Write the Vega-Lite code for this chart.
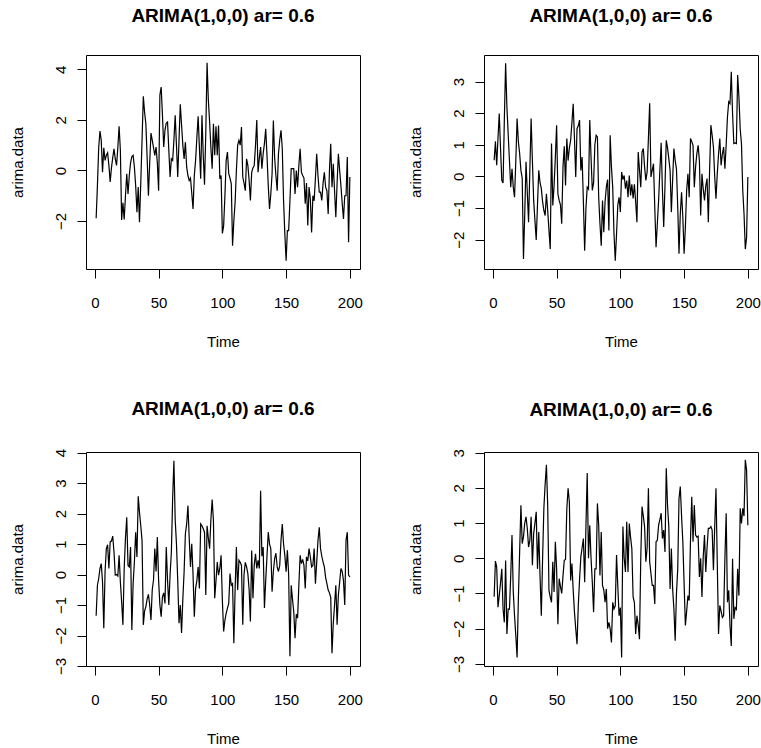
{
"$schema": "https://vega.github.io/schema/vega-lite/v6.json",
"background": "white",
"padding": {"left": 9, "top": 6, "right": 0, "bottom": 0},
"bounds": "flush",
"spacing": {"row": 183, "column": 124},
"columns": 2,
"config": {
  "font": "Liberation Sans",
  "view": {"stroke": "black", "strokeWidth": 1},
  "axis": {"domain": false, "grid": false, "tickColor": "black", "tickSize": 9, "labelFont": "Liberation Sans", "labelFontSize": 15, "labelColor": "black", "titleFont": "Liberation Sans", "titleFontSize": 15, "titleFontWeight": "normal", "titleColor": "black", "labelFlush": false, "labelOverlap": false},
  "axisX": {"labelPadding": 17, "titlePadding": 24, "labelAngle": 0},
  "axisY": {"labelAngle": -90, "labelAlign": "center", "labelBaseline": "alphabetic", "labelPadding": 12, "titlePadding": 28},
  "title": {"fontSize": 19, "fontWeight": "bold", "color": "black", "offset": 29, "anchor": "middle", "frame": "group", "font": "Liberation Sans"}
},
"datasets": {
"p1": [{"t":1,"y":-1.89},{"t":2,"y":-0.6},{"t":3,"y":0.9},{"t":4,"y":1.56},{"t":5,"y":1.2},{"t":6,"y":-0.07},{"t":7,"y":0.9},{"t":8,"y":0.4},{"t":9,"y":0.6},{"t":10,"y":0.7},{"t":11,"y":0.2},{"t":12,"y":-0.45},{"t":13,"y":0.1},{"t":14,"y":0.5},{"t":15,"y":0.86},{"t":16,"y":0.46},{"t":17,"y":0.2},{"t":18,"y":0.9},{"t":19,"y":1.75},{"t":20,"y":0.8},{"t":21,"y":-1.96},{"t":22,"y":-1.28},{"t":23,"y":-1.94},{"t":24,"y":-1.0},{"t":25,"y":-0.13},{"t":26,"y":-0.93},{"t":27,"y":-0.2},{"t":28,"y":0.3},{"t":29,"y":0.55},{"t":30,"y":0.6},{"t":31,"y":0.13},{"t":32,"y":-0.6},{"t":33,"y":-1.65},{"t":34,"y":-0.66},{"t":35,"y":-2.05},{"t":36,"y":-0.5},{"t":37,"y":1.2},{"t":38,"y":2.94},{"t":39,"y":2.3},{"t":40,"y":1.85},{"t":41,"y":0.5},{"t":42,"y":-1.0},{"t":43,"y":0.3},{"t":44,"y":1.48},{"t":45,"y":1.2},{"t":46,"y":0.9},{"t":47,"y":0.6},{"t":48,"y":0.93},{"t":49,"y":0.3},{"t":50,"y":-0.8},{"t":51,"y":2.98},{"t":52,"y":3.3},{"t":53,"y":2.2},{"t":54,"y":0.93},{"t":55,"y":1.6},{"t":56,"y":1.88},{"t":57,"y":1.92},{"t":58,"y":0.8},{"t":59,"y":-0.26},{"t":60,"y":0.46},{"t":61,"y":0.4},{"t":62,"y":1.2},{"t":63,"y":2.18},{"t":64,"y":1.0},{"t":65,"y":-0.26},{"t":66,"y":1.2},{"t":67,"y":2.62},{"t":68,"y":1.8},{"t":69,"y":1.0},{"t":70,"y":0.46},{"t":71,"y":1.12},{"t":72,"y":0.13},{"t":73,"y":-0.2},{"t":74,"y":-0.4},{"t":75,"y":-0.3},{"t":76,"y":-0.9},{"t":77,"y":-1.52},{"t":78,"y":-0.2},{"t":79,"y":0.4},{"t":80,"y":1.3},{"t":81,"y":2.14},{"t":82,"y":0.9},{"t":83,"y":-0.33},{"t":84,"y":2.18},{"t":85,"y":0.6},{"t":86,"y":-0.56},{"t":87,"y":1.5},{"t":88,"y":4.26},{"t":89,"y":2.8},{"t":90,"y":1.92},{"t":91,"y":0.9},{"t":92,"y":0.07},{"t":93,"y":1.85},{"t":94,"y":0.6},{"t":95,"y":1.75},{"t":96,"y":0.6},{"t":97,"y":1.78},{"t":98,"y":-0.33},{"t":99,"y":-0.2},{"t":100,"y":-2.49},{"t":101,"y":-2.2},{"t":102,"y":-1.0},{"t":103,"y":0.4},{"t":104,"y":0.73},{"t":105,"y":-0.13},{"t":106,"y":-0.3},{"t":107,"y":-0.53},{"t":108,"y":-2.98},{"t":109,"y":-2.0},{"t":110,"y":-1.26},{"t":111,"y":0.0},{"t":112,"y":1.0},{"t":113,"y":1.19},{"t":114,"y":1.0},{"t":115,"y":1.72},{"t":116,"y":-0.26},{"t":117,"y":-0.5},{"t":118,"y":-0.8},{"t":119,"y":0.46},{"t":120,"y":0.2},{"t":121,"y":-0.4},{"t":122,"y":-1.19},{"t":123,"y":-0.07},{"t":124,"y":0.1},{"t":125,"y":0.2},{"t":126,"y":1.0},{"t":127,"y":2.0},{"t":128,"y":-0.07},{"t":129,"y":0.5},{"t":130,"y":0.93},{"t":131,"y":0.07},{"t":132,"y":0.66},{"t":133,"y":1.06},{"t":134,"y":1.65},{"t":135,"y":0.6},{"t":136,"y":-0.6},{"t":137,"y":-1.52},{"t":138,"y":-0.93},{"t":139,"y":-0.13},{"t":140,"y":1.98},{"t":141,"y":0.5},{"t":142,"y":-0.2},{"t":143,"y":-0.8},{"t":144,"y":0.66},{"t":145,"y":1.2},{"t":146,"y":1.59},{"t":147,"y":0.86},{"t":148,"y":-1.19},{"t":149,"y":-2.5},{"t":150,"y":-3.57},{"t":151,"y":-2.38},{"t":152,"y":-2.38},{"t":153,"y":-1.2},{"t":154,"y":0.07},{"t":155,"y":0.07},{"t":156,"y":0.07},{"t":157,"y":-0.93},{"t":158,"y":0.0},{"t":159,"y":-0.66},{"t":160,"y":0.2},{"t":161,"y":0.86},{"t":162,"y":-0.07},{"t":163,"y":-0.2},{"t":164,"y":-0.3},{"t":165,"y":-1.32},{"t":166,"y":-0.5},{"t":167,"y":-2.18},{"t":168,"y":-0.66},{"t":169,"y":-1.12},{"t":170,"y":-2.45},{"t":171,"y":-1.0},{"t":172,"y":-1.2},{"t":173,"y":-0.3},{"t":174,"y":0.66},{"t":175,"y":-0.2},{"t":176,"y":-0.86},{"t":177,"y":-0.86},{"t":178,"y":-1.19},{"t":179,"y":-0.5},{"t":180,"y":-0.07},{"t":181,"y":-0.66},{"t":182,"y":-0.8},{"t":183,"y":-1.72},{"t":184,"y":0.0},{"t":185,"y":1.06},{"t":186,"y":-0.66},{"t":187,"y":0.26},{"t":188,"y":-0.8},{"t":189,"y":-1.85},{"t":190,"y":-0.5},{"t":191,"y":0.66},{"t":192,"y":0.0},{"t":193,"y":-0.6},{"t":194,"y":-1.3},{"t":195,"y":-1.92},{"t":196,"y":-1.0},{"t":197,"y":-1.0},{"t":198,"y":0.53},{"t":199,"y":-2.84},{"t":200,"y":-0.26}],
"p2": [{"t":1,"y":0.51},{"t":2,"y":1.11},{"t":3,"y":0.35},{"t":4,"y":1.2},{"t":5,"y":1.99},{"t":6,"y":0.9},{"t":7,"y":-0.13},{"t":8,"y":-0.21},{"t":9,"y":1.8},{"t":10,"y":3.58},{"t":11,"y":2.2},{"t":12,"y":1.35},{"t":13,"y":0.5},{"t":14,"y":-0.34},{"t":15,"y":0.24},{"t":16,"y":-0.34},{"t":17,"y":-0.66},{"t":18,"y":0.5},{"t":19,"y":1.83},{"t":20,"y":1.1},{"t":21,"y":0.72},{"t":22,"y":0.19},{"t":23,"y":-0.05},{"t":24,"y":-2.61},{"t":25,"y":-1.2},{"t":26,"y":0.46},{"t":27,"y":-0.5},{"t":28,"y":-1.45},{"t":29,"y":0.2},{"t":30,"y":1.83},{"t":31,"y":0.5},{"t":32,"y":-0.76},{"t":33,"y":-1.4},{"t":34,"y":-2.01},{"t":35,"y":-0.9},{"t":36,"y":0.19},{"t":37,"y":-0.2},{"t":38,"y":-0.39},{"t":39,"y":-0.8},{"t":40,"y":-1.08},{"t":41,"y":-1.24},{"t":42,"y":-0.55},{"t":43,"y":-1.08},{"t":44,"y":-1.7},{"t":45,"y":-2.3},{"t":46,"y":1.04},{"t":47,"y":-0.92},{"t":48,"y":-0.3},{"t":49,"y":0.6},{"t":50,"y":1.62},{"t":51,"y":-0.55},{"t":52,"y":-0.76},{"t":53,"y":-0.9},{"t":54,"y":-1.5},{"t":55,"y":0.3},{"t":56,"y":0.95},{"t":57,"y":-0.29},{"t":58,"y":1.2},{"t":59,"y":0.5},{"t":60,"y":0.9},{"t":61,"y":1.14},{"t":62,"y":1.7},{"t":63,"y":2.3},{"t":64,"y":1.2},{"t":65,"y":-0.02},{"t":66,"y":1.51},{"t":67,"y":1.6},{"t":68,"y":1.78},{"t":69,"y":0.19},{"t":70,"y":0.61},{"t":71,"y":-0.8},{"t":72,"y":-2.35},{"t":73,"y":-1.0},{"t":74,"y":-0.34},{"t":75,"y":-0.4},{"t":76,"y":1.78},{"t":77,"y":0.6},{"t":78,"y":-0.44},{"t":79,"y":-0.2},{"t":80,"y":1.0},{"t":81,"y":1.3},{"t":82,"y":1.25},{"t":83,"y":-0.66},{"t":84,"y":-1.5},{"t":85,"y":-2.19},{"t":86,"y":-0.76},{"t":87,"y":-1.77},{"t":88,"y":-0.8},{"t":89,"y":-0.34},{"t":90,"y":-0.1},{"t":91,"y":-1.71},{"t":92,"y":1.3},{"t":93,"y":0.3},{"t":94,"y":-0.34},{"t":95,"y":-1.8},{"t":96,"y":-2.67},{"t":97,"y":-1.82},{"t":98,"y":-0.9},{"t":99,"y":-0.66},{"t":100,"y":-1.13},{"t":101,"y":0.14},{"t":102,"y":-0.1},{"t":103,"y":0.03},{"t":104,"y":-0.39},{"t":105,"y":-0.13},{"t":106,"y":-0.66},{"t":107,"y":0.03},{"t":108,"y":-0.6},{"t":109,"y":-0.25},{"t":110,"y":-0.7},{"t":111,"y":-0.25},{"t":112,"y":-0.8},{"t":113,"y":-1.45},{"t":114,"y":0.77},{"t":115,"y":0.2},{"t":116,"y":-0.34},{"t":117,"y":0.77},{"t":118,"y":0.88},{"t":119,"y":0.3},{"t":120,"y":-0.13},{"t":121,"y":0.14},{"t":122,"y":1.2},{"t":123,"y":2.31},{"t":124,"y":-0.02},{"t":125,"y":0.2},{"t":126,"y":0.4},{"t":127,"y":-1.0},{"t":128,"y":-2.24},{"t":129,"y":-1.5},{"t":130,"y":-0.76},{"t":131,"y":0.2},{"t":132,"y":1.06},{"t":133,"y":-0.44},{"t":134,"y":-1.6},{"t":135,"y":-0.3},{"t":136,"y":1.14},{"t":137,"y":0.9},{"t":138,"y":0.56},{"t":139,"y":0.2},{"t":140,"y":-1.13},{"t":141,"y":-0.1},{"t":142,"y":0.88},{"t":143,"y":0.5},{"t":144,"y":0.24},{"t":145,"y":-0.97},{"t":146,"y":-2.45},{"t":147,"y":-1.2},{"t":148,"y":-0.5},{"t":149,"y":-1.29},{"t":150,"y":-2.45},{"t":151,"y":-1.6},{"t":152,"y":-0.44},{"t":153,"y":0.08},{"t":154,"y":-0.66},{"t":155,"y":1.2},{"t":156,"y":1.1},{"t":157,"y":0.98},{"t":158,"y":-0.34},{"t":159,"y":0.3},{"t":160,"y":0.72},{"t":161,"y":0.98},{"t":162,"y":0.5},{"t":163,"y":-1.24},{"t":164,"y":0.08},{"t":165,"y":-0.4},{"t":166,"y":-0.76},{"t":167,"y":-0.3},{"t":168,"y":-0.07},{"t":169,"y":-1.45},{"t":170,"y":0.2},{"t":171,"y":1.62},{"t":172,"y":1.3},{"t":173,"y":0.93},{"t":174,"y":0.0},{"t":175,"y":-0.71},{"t":176,"y":0.08},{"t":177,"y":0.7},{"t":178,"y":1.2},{"t":179,"y":0.35},{"t":180,"y":0.7},{"t":181,"y":0.93},{"t":182,"y":0.24},{"t":183,"y":1.0},{"t":184,"y":1.88},{"t":185,"y":2.36},{"t":186,"y":2.3},{"t":187,"y":3.31},{"t":188,"y":2.0},{"t":189,"y":1.04},{"t":190,"y":1.06},{"t":191,"y":1.04},{"t":192,"y":3.21},{"t":193,"y":2.52},{"t":194,"y":1.5},{"t":195,"y":1.04},{"t":196,"y":-0.44},{"t":197,"y":-1.18},{"t":198,"y":-2.3},{"t":199,"y":-1.93},{"t":200,"y":-0.02}],
"p3": [{"t":1,"y":-1.35},{"t":2,"y":-0.35},{"t":3,"y":-0.13},{"t":4,"y":0.2},{"t":5,"y":0.36},{"t":6,"y":-0.24},{"t":7,"y":-1.76},{"t":8,"y":0.1},{"t":9,"y":0.85},{"t":10,"y":0.98},{"t":11,"y":0.2},{"t":12,"y":1.07},{"t":13,"y":1.1},{"t":14,"y":1.26},{"t":15,"y":0.74},{"t":16,"y":-0.02},{"t":17,"y":0.0},{"t":18,"y":-0.05},{"t":19,"y":0.63},{"t":20,"y":-0.24},{"t":21,"y":-0.9},{"t":22,"y":-1.65},{"t":23,"y":0.2},{"t":24,"y":1.2},{"t":25,"y":1.88},{"t":26,"y":0.3},{"t":27,"y":0.25},{"t":28,"y":0.9},{"t":29,"y":-1.82},{"t":30,"y":-0.3},{"t":31,"y":0.41},{"t":32,"y":1.39},{"t":33,"y":0.58},{"t":34,"y":2.57},{"t":35,"y":2.04},{"t":36,"y":1.6},{"t":37,"y":1.12},{"t":38,"y":-1.65},{"t":39,"y":-1.2},{"t":40,"y":-1.05},{"t":41,"y":-0.8},{"t":42,"y":-0.65},{"t":43,"y":-1.0},{"t":44,"y":-1.49},{"t":45,"y":-0.5},{"t":46,"y":-0.18},{"t":47,"y":0.85},{"t":48,"y":0.1},{"t":49,"y":1.23},{"t":50,"y":-0.2},{"t":51,"y":-1.0},{"t":52,"y":-1.38},{"t":53,"y":-0.73},{"t":54,"y":-0.6},{"t":55,"y":-0.95},{"t":56,"y":0.9},{"t":57,"y":-0.2},{"t":58,"y":-1.0},{"t":59,"y":0.0},{"t":60,"y":0.74},{"t":61,"y":2.5},{"t":62,"y":3.73},{"t":63,"y":1.8},{"t":64,"y":1.01},{"t":65,"y":-0.2},{"t":66,"y":-1.6},{"t":67,"y":-1.0},{"t":68,"y":-1.92},{"t":69,"y":-0.8},{"t":70,"y":0.1},{"t":71,"y":1.34},{"t":72,"y":1.66},{"t":73,"y":2.26},{"t":74,"y":1.2},{"t":75,"y":0.25},{"t":76,"y":1.01},{"t":77,"y":0.0},{"t":78,"y":-1.38},{"t":79,"y":-0.46},{"t":80,"y":-0.2},{"t":81,"y":0.25},{"t":82,"y":-0.46},{"t":83,"y":1.66},{"t":84,"y":1.6},{"t":85,"y":1.5},{"t":86,"y":1.39},{"t":87,"y":-0.67},{"t":88,"y":1.6},{"t":89,"y":1.2},{"t":90,"y":0.85},{"t":91,"y":1.8},{"t":92,"y":2.46},{"t":93,"y":1.77},{"t":94,"y":-0.78},{"t":95,"y":-0.2},{"t":96,"y":0.41},{"t":97,"y":-0.02},{"t":98,"y":0.2},{"t":99,"y":0.63},{"t":100,"y":-0.84},{"t":101,"y":-1.87},{"t":102,"y":-1.5},{"t":103,"y":-1.27},{"t":104,"y":-1.1},{"t":105,"y":-0.95},{"t":106,"y":0.03},{"t":107,"y":-0.35},{"t":108,"y":-0.3},{"t":109,"y":-2.25},{"t":110,"y":-0.5},{"t":111,"y":0.9},{"t":112,"y":-0.51},{"t":113,"y":0.47},{"t":114,"y":0.4},{"t":115,"y":0.3},{"t":116,"y":-1.65},{"t":117,"y":0.0},{"t":118,"y":0.4},{"t":119,"y":0.25},{"t":120,"y":0.03},{"t":121,"y":-0.5},{"t":122,"y":-1.54},{"t":123,"y":0.79},{"t":124,"y":-0.78},{"t":125,"y":0.3},{"t":126,"y":0.68},{"t":127,"y":0.2},{"t":128,"y":0.47},{"t":129,"y":0.2},{"t":130,"y":2.75},{"t":131,"y":0.6},{"t":132,"y":0.9},{"t":133,"y":-1.1},{"t":134,"y":-0.2},{"t":135,"y":0.6},{"t":136,"y":1.39},{"t":137,"y":1.0},{"t":138,"y":0.85},{"t":139,"y":-0.56},{"t":140,"y":0.1},{"t":141,"y":0.52},{"t":142,"y":0.7},{"t":143,"y":0.25},{"t":144,"y":0.1},{"t":145,"y":0.3},{"t":146,"y":1.12},{"t":147,"y":1.66},{"t":148,"y":1.0},{"t":149,"y":0.63},{"t":150,"y":0.09},{"t":151,"y":0.8},{"t":152,"y":0.0},{"t":153,"y":-2.68},{"t":154,"y":-0.35},{"t":155,"y":-0.8},{"t":156,"y":-1.22},{"t":157,"y":-2.09},{"t":158,"y":-1.3},{"t":159,"y":-1.43},{"t":160,"y":-0.35},{"t":161,"y":0.63},{"t":162,"y":0.36},{"t":163,"y":0.5},{"t":164,"y":0.3},{"t":165,"y":-0.46},{"t":166,"y":0.58},{"t":167,"y":0.45},{"t":168,"y":0.85},{"t":169,"y":0.58},{"t":170,"y":0.25},{"t":171,"y":0.3},{"t":172,"y":0.85},{"t":173,"y":-0.3},{"t":174,"y":0.4},{"t":175,"y":1.12},{"t":176,"y":1.55},{"t":177,"y":0.85},{"t":178,"y":0.6},{"t":179,"y":0.41},{"t":180,"y":0.25},{"t":181,"y":-0.1},{"t":182,"y":-0.3},{"t":183,"y":-0.51},{"t":184,"y":-0.6},{"t":185,"y":-0.75},{"t":186,"y":-2.58},{"t":187,"y":-1.6},{"t":188,"y":-1.0},{"t":189,"y":-0.35},{"t":190,"y":-1.65},{"t":191,"y":-0.67},{"t":192,"y":-0.25},{"t":193,"y":0.2},{"t":194,"y":0.1},{"t":195,"y":-0.2},{"t":196,"y":-1.0},{"t":197,"y":1.12},{"t":198,"y":1.39},{"t":199,"y":-0.02},{"t":200,"y":-0.08}],
"p4": [{"t":1,"y":-1.09},{"t":2,"y":-0.08},{"t":3,"y":-0.25},{"t":4,"y":-1.39},{"t":5,"y":-1.06},{"t":6,"y":-0.7},{"t":7,"y":-0.3},{"t":8,"y":-1.44},{"t":9,"y":-1.82},{"t":10,"y":-0.06},{"t":11,"y":-2.15},{"t":12,"y":-1.44},{"t":13,"y":-1.45},{"t":14,"y":-0.5},{"t":15,"y":0.66},{"t":16,"y":-0.96},{"t":17,"y":-1.63},{"t":18,"y":-2.2},{"t":19,"y":-2.82},{"t":20,"y":-1.15},{"t":21,"y":0.2},{"t":22,"y":1.51},{"t":23,"y":0.42},{"t":24,"y":0.61},{"t":25,"y":1.0},{"t":26,"y":1.18},{"t":27,"y":0.85},{"t":28,"y":0.32},{"t":29,"y":0.5},{"t":30,"y":1.18},{"t":31,"y":-0.2},{"t":32,"y":0.7},{"t":33,"y":1.0},{"t":34,"y":1.32},{"t":35,"y":-0.3},{"t":36,"y":0.75},{"t":37,"y":-0.5},{"t":38,"y":-1.63},{"t":39,"y":0.0},{"t":40,"y":1.42},{"t":41,"y":2.1},{"t":42,"y":2.66},{"t":43,"y":1.51},{"t":44,"y":-0.91},{"t":45,"y":-1.1},{"t":46,"y":-1.25},{"t":47,"y":-0.1},{"t":48,"y":-0.96},{"t":49,"y":0.47},{"t":50,"y":-0.3},{"t":51,"y":-1.87},{"t":52,"y":-0.58},{"t":53,"y":-0.8},{"t":54,"y":-1.0},{"t":55,"y":-0.5},{"t":56,"y":-0.06},{"t":57,"y":-0.03},{"t":58,"y":1.4},{"t":59,"y":1.99},{"t":60,"y":1.6},{"t":61,"y":-0.63},{"t":62,"y":-0.15},{"t":63,"y":-0.9},{"t":64,"y":-1.53},{"t":65,"y":-2.0},{"t":66,"y":-2.44},{"t":67,"y":-1.34},{"t":68,"y":-0.6},{"t":69,"y":0.04},{"t":70,"y":0.3},{"t":71,"y":0.56},{"t":72,"y":-0.68},{"t":73,"y":0.9},{"t":74,"y":2.42},{"t":75,"y":0.0},{"t":76,"y":0.94},{"t":77,"y":0.0},{"t":78,"y":-0.68},{"t":79,"y":-1.53},{"t":80,"y":-0.3},{"t":81,"y":-0.3},{"t":82,"y":1.56},{"t":83,"y":0.94},{"t":84,"y":-0.49},{"t":85,"y":0.75},{"t":86,"y":-0.77},{"t":87,"y":-0.9},{"t":88,"y":-1.25},{"t":89,"y":-0.87},{"t":90,"y":-2.0},{"t":91,"y":-1.82},{"t":92,"y":-2.0},{"t":93,"y":-2.39},{"t":94,"y":-1.25},{"t":95,"y":-1.44},{"t":96,"y":-1.35},{"t":97,"y":0.09},{"t":98,"y":-0.8},{"t":99,"y":-1.63},{"t":100,"y":-1.4},{"t":101,"y":-2.82},{"t":102,"y":0.9},{"t":103,"y":0.0},{"t":104,"y":-0.39},{"t":105,"y":1.04},{"t":106,"y":-0.39},{"t":107,"y":0.99},{"t":108,"y":0.6},{"t":109,"y":0.28},{"t":110,"y":-1.1},{"t":111,"y":-1.25},{"t":112,"y":-2.15},{"t":113,"y":-1.63},{"t":114,"y":-1.9},{"t":115,"y":-2.3},{"t":116,"y":-0.01},{"t":117,"y":1.47},{"t":118,"y":1.2},{"t":119,"y":0.9},{"t":120,"y":-0.1},{"t":121,"y":0.3},{"t":122,"y":1.99},{"t":123,"y":-0.1},{"t":124,"y":-0.44},{"t":125,"y":-0.77},{"t":126,"y":-0.77},{"t":127,"y":-1.3},{"t":128,"y":0.47},{"t":129,"y":0.51},{"t":130,"y":0.94},{"t":131,"y":1.1},{"t":132,"y":1.28},{"t":133,"y":0.56},{"t":134,"y":0.8},{"t":135,"y":0.18},{"t":136,"y":2.56},{"t":137,"y":1.5},{"t":138,"y":0.9},{"t":139,"y":-0.87},{"t":140,"y":0.28},{"t":141,"y":-0.87},{"t":142,"y":-1.44},{"t":143,"y":-2.34},{"t":144,"y":-1.0},{"t":145,"y":-0.3},{"t":146,"y":1.7},{"t":147,"y":2.04},{"t":148,"y":1.2},{"t":149,"y":0.47},{"t":150,"y":-0.72},{"t":151,"y":-1.91},{"t":152,"y":-1.5},{"t":153,"y":-1.06},{"t":154,"y":-1.2},{"t":155,"y":0.5},{"t":156,"y":1.75},{"t":157,"y":0.47},{"t":158,"y":1.51},{"t":159,"y":0.66},{"t":160,"y":0.6},{"t":161,"y":0.63},{"t":162,"y":-0.53},{"t":163,"y":0.0},{"t":164,"y":-1.1},{"t":165,"y":0.04},{"t":166,"y":0.66},{"t":167,"y":-0.39},{"t":168,"y":0.3},{"t":169,"y":0.85},{"t":170,"y":0.85},{"t":171,"y":0.9},{"t":172,"y":0.8},{"t":173,"y":-0.34},{"t":174,"y":0.9},{"t":175,"y":1.99},{"t":176,"y":-0.1},{"t":177,"y":-2.15},{"t":178,"y":-1.34},{"t":179,"y":-1.5},{"t":180,"y":-1.68},{"t":181,"y":-1.63},{"t":182,"y":0.0},{"t":183,"y":1.28},{"t":184,"y":-1.25},{"t":185,"y":-0.91},{"t":186,"y":-1.91},{"t":187,"y":-2.49},{"t":188,"y":-0.01},{"t":189,"y":-1.72},{"t":190,"y":-1.4},{"t":191,"y":-1.45},{"t":192,"y":-0.3},{"t":193,"y":-1.06},{"t":194,"y":1.42},{"t":195,"y":0.99},{"t":196,"y":1.42},{"t":197,"y":1.2},{"t":198,"y":2.8},{"t":199,"y":2.51},{"t":200,"y":0.94}]
},
"concat": [
 {"title": "ARIMA(1,0,0) ar= 0.6", "width": 274, "height": 214, "data": {"name": "p1"},
  "mark": {"type": "line", "color": "black", "strokeWidth": 1.2},
  "encoding": {
   "x": {"field": "t", "type": "quantitative", "scale": {"domain": [-6.96, 207.96], "nice": false, "zero": false}, "axis": {"title": "Time", "values": [0, 50, 100, 150, 200]}},
   "y": {"field": "y", "type": "quantitative", "scale": {"domain": [-3.9, 4.57], "nice": false, "zero": false}, "axis": {"title": "arima.data", "values": [-2, 0, 2, 4]}}}},
 {"title": "ARIMA(1,0,0) ar= 0.6", "width": 274, "height": 214, "data": {"name": "p2"},
  "mark": {"type": "line", "color": "black", "strokeWidth": 1.2},
  "encoding": {
   "x": {"field": "t", "type": "quantitative", "scale": {"domain": [-6.96, 207.96], "nice": false, "zero": false}, "axis": {"title": "Time", "values": [0, 50, 100, 150, 200]}},
   "y": {"field": "y", "type": "quantitative", "scale": {"domain": [-2.93, 3.84], "nice": false, "zero": false}, "axis": {"title": "arima.data", "values": [-2, -1, 0, 1, 2, 3]}}}},
 {"title": "ARIMA(1,0,0) ar= 0.6", "width": 274, "height": 214, "data": {"name": "p3"},
  "mark": {"type": "line", "color": "black", "strokeWidth": 1.2},
  "encoding": {
   "x": {"field": "t", "type": "quantitative", "scale": {"domain": [-6.96, 207.96], "nice": false, "zero": false}, "axis": {"title": "Time", "values": [0, 50, 100, 150, 200]}},
   "y": {"field": "y", "type": "quantitative", "scale": {"domain": [-3.0, 4.02], "nice": false, "zero": false}, "axis": {"title": "arima.data", "values": [-3, -2, -1, 0, 1, 2, 3, 4]}}}},
 {"title": "ARIMA(1,0,0) ar= 0.6", "width": 274, "height": 214, "data": {"name": "p4"},
  "mark": {"type": "line", "color": "black", "strokeWidth": 1.2},
  "encoding": {
   "x": {"field": "t", "type": "quantitative", "scale": {"domain": [-6.96, 207.96], "nice": false, "zero": false}, "axis": {"title": "Time", "values": [0, 50, 100, 150, 200]}},
   "y": {"field": "y", "type": "quantitative", "scale": {"domain": [-3.06, 3.02], "nice": false, "zero": false}, "axis": {"title": "arima.data", "values": [-3, -2, -1, 0, 1, 2, 3]}}}}
]
}
